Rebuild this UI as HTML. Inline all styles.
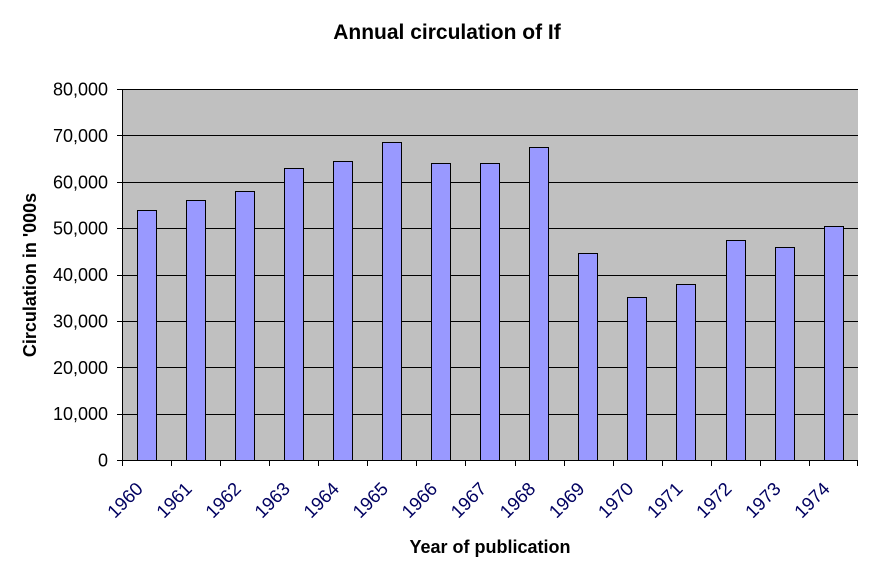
<!DOCTYPE html>
<html><head><style>body{margin:0;background:#fff}</style></head><body>
<svg width="892" height="571" xmlns="http://www.w3.org/2000/svg" font-family="Liberation Sans, Arial, sans-serif">
<rect width="892" height="571" fill="#fff"/>
<text x="447" y="39" text-anchor="middle" font-size="21" font-weight="bold">Annual circulation of If</text>
<rect x="122" y="89" width="736" height="371" fill="#c0c0c0"/>
<g stroke="#000" stroke-width="1">
<line x1="122" x2="858" y1="89.5" y2="89.5"/><line x1="122" x2="858" y1="135.5" y2="135.5"/>
<line x1="122" x2="858" y1="182.5" y2="182.5"/><line x1="122" x2="858" y1="228.5" y2="228.5"/>
<line x1="122" x2="858" y1="275.5" y2="275.5"/><line x1="122" x2="858" y1="321.5" y2="321.5"/>
<line x1="122" x2="858" y1="367.5" y2="367.5"/><line x1="122" x2="858" y1="414.5" y2="414.5"/>
</g>
<g id="bars" fill="#9999ff" stroke="#000" stroke-width="1"></g>
<g stroke="#000" stroke-width="1" id="axes">
<line x1="122.5" y1="89" x2="122.5" y2="461"/>
<line x1="117" y1="460.5" x2="858" y2="460.5"/>
</g>
<g font-size="18" text-anchor="end" id="ylab"></g>
<g font-size="18.5" fill="#000060" id="xlab"></g>
<text x="490" y="553" text-anchor="middle" font-size="18" font-weight="bold">Year of publication</text>
<text transform="translate(36,275) rotate(-90)" text-anchor="middle" font-size="18" font-weight="bold">Circulation in '000s</text>
<script>
var ns="http://www.w3.org/2000/svg";
var v=[54000,56000,58000,63000,64500,68500,64000,64000,67500,44700,35200,38000,47500,46000,50500];
var cw=736/15,b=document.getElementById('bars'),ax=document.getElementById('axes'),xl=document.getElementById('xlab'),yl=document.getElementById('ylab');
function el(n,a,p){var e=document.createElementNS(ns,n);for(var k in a)e.setAttribute(k,a[k]);p.appendChild(e);return e;}
v.forEach(function(d,i){var x=122+i*cw+14.7,h=d/80000*371;
el('rect',{x:Math.round(x)+.5,y:Math.round(460-h)+.5,width:19,height:Math.round(h)},b);
var tx=Math.round(122+i*cw)+.5;el('line',{x1:tx,x2:tx,y1:460,y2:466},ax);
var t=el('text',{transform:'translate('+(122+i*cw+22)+',490) rotate(-45)','text-anchor':'end'},xl);t.textContent=1960+i;});
el('line',{x1:857.5,x2:857.5,y1:460,y2:466},ax);
for(var k=0;k<=8;k++){var y=460-k*371/8;el('line',{x1:117,x2:122,y1:Math.round(y)+.5,y2:Math.round(y)+.5},ax);
var t=el('text',{x:108,y:y+6.5},yl);t.textContent=k==0?'0':(k*10)+',000';}
</script>
</svg>
</body></html>
